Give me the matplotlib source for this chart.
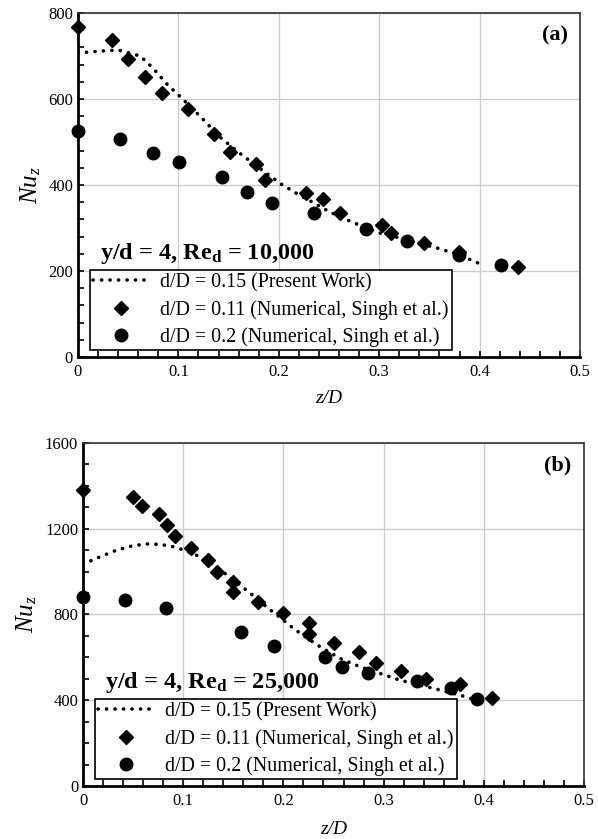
import matplotlib
matplotlib.use("Agg")
import matplotlib.pyplot as plt
from matplotlib.ticker import MultipleLocator

plt.rcParams['font.family'] = ['Liberation Serif', 'DejaVu Serif']
plt.rcParams['mathtext.fontset'] = 'custom'
plt.rcParams['mathtext.rm'] = 'Liberation Serif'
plt.rcParams['mathtext.it'] = 'Liberation Serif:italic'
plt.rcParams['mathtext.bf'] = 'Liberation Serif:bold'

# (a) Re_d = 10,000
a_line_x = [0.0, 0.02, 0.04, 0.062, 0.075, 0.088, 0.102, 0.122, 0.141, 0.161, 0.181,
            0.201, 0.218, 0.235, 0.251, 0.268, 0.285, 0.301, 0.32, 0.34, 0.36, 0.38, 0.401]
a_line_y = [707, 711, 714, 700, 671, 636, 605, 559, 512, 474, 439,
            404, 380, 358, 337, 319, 302, 288, 277, 264, 252, 237, 216]
a_dia_x = [0.0, 0.034, 0.050, 0.067, 0.084, 0.110, 0.135, 0.151, 0.177, 0.186,
           0.227, 0.244, 0.261, 0.303, 0.312, 0.345, 0.379, 0.438]
a_dia_y = [768, 737, 692, 652, 615, 576, 519, 477, 448, 412,
           381, 367, 336, 307, 289, 264, 245, 210]
a_cir_x = [0.0, 0.042, 0.075, 0.101, 0.143, 0.168, 0.193, 0.235, 0.287, 0.328, 0.379, 0.421]
a_cir_y = [526, 506, 474, 454, 418, 384, 358, 336, 297, 270, 237, 215]

# (b) Re_d = 25,000
b_line_x = [0.0, 0.017, 0.034, 0.050, 0.064, 0.077, 0.090, 0.103, 0.117, 0.133, 0.150,
            0.167, 0.183, 0.197, 0.210, 0.2235, 0.2365, 0.2565, 0.276, 0.296, 0.316,
            0.336, 0.356, 0.376, 0.403]
b_line_y = [1035, 1069, 1101, 1121, 1129, 1127, 1116, 1097, 1069, 1023, 961,
            899, 836, 785, 735, 690, 650, 595, 557, 526, 494, 471, 448, 424, 386]
b_dia_x = [0.0, 0.050, 0.059, 0.0755, 0.084, 0.092, 0.108, 0.125, 0.134, 0.150, 0.150,
           0.175, 0.200, 0.226, 0.226, 0.250, 0.275, 0.292, 0.317, 0.342, 0.376, 0.408]
b_dia_y = [1381, 1349, 1306, 1267, 1216, 1166, 1112, 1052, 998, 951, 905,
           858, 805, 762, 709, 668, 624, 575, 536, 499, 474, 412]
b_cir_x = [0.0, 0.0416, 0.083, 0.158, 0.191, 0.2415, 0.258, 0.284, 0.333, 0.367, 0.393]
b_cir_y = [880, 867, 830, 717, 653, 603, 554, 529, 490, 456, 406]

labels = ["d/D = 0.15 (Present Work)",
          "d/D = 0.11 (Numerical, Singh et al.)",
          "d/D = 0.2 (Numerical, Singh et al.)"]

fig = plt.figure(figsize=(5.98, 8.39), dpi=100)
ax1 = fig.add_axes([0.1304, 0.5745, 0.8396, 0.41])
ax2 = fig.add_axes([0.1388, 0.0632, 0.8378, 0.4088])


def draw(ax, lx, ly, dx, dy, cx, cy, ymax, ystep, yminor, tag, re_text, xpad):
    ax.plot(lx, ly, color='black', linestyle=(0, (0.05, 2.3)), lw=2.6,
            dash_capstyle='round', label=labels[0], zorder=3)
    ax.plot(dx, dy, 'D', color='black', ms=7.5, ls='none', label=labels[1],
            zorder=4, clip_on=False)
    ax.plot(cx, cy, 'o', color='black', ms=9, ls='none', label=labels[2],
            zorder=4, clip_on=False)
    ax.set_xlim(0, 0.5)
    ax.set_ylim(0, ymax)
    ax.xaxis.set_major_locator(MultipleLocator(0.1))
    ax.xaxis.set_minor_locator(MultipleLocator(0.02))
    ax.yaxis.set_major_locator(MultipleLocator(ystep))
    ax.yaxis.set_minor_locator(MultipleLocator(yminor))
    ax.xaxis.set_major_formatter(plt.FuncFormatter(lambda v, p: '0' if v == 0 else f'{v:g}'))
    ax.grid(True, which='major', color='#cccccc', lw=1)
    ax.set_axisbelow(True)
    ax.tick_params(which='both', direction='in', length=4, width=1.2,
                   top=False, right=False, labelsize=12)
    ax.tick_params(axis='x', pad=5)
    for s in ['left', 'bottom']:
        ax.spines[s].set_linewidth(2)
        ax.spines[s].set_color('black')
    for s in ['top', 'right']:
        ax.spines[s].set_linewidth(1.2)
        ax.spines[s].set_color('#333333')
    ax.set_xlabel('z/D', fontstyle='italic', fontsize=14, labelpad=xpad)
    ax.set_ylabel('$Nu_z$', fontsize=18, labelpad=4)
    ax.text(0.975, 0.965, tag, transform=ax.transAxes, ha='right', va='top',
            fontsize=16, fontweight='bold')
    ax.text(0.043, 0.285, re_text, transform=ax.transAxes, ha='left', va='baseline',
            fontsize=17.5, fontweight='bold')
    leg = ax.legend(loc='lower left', bbox_to_anchor=(0.024, 0.02, 0.74, 0.24),
                    fontsize=14.4, frameon=True, fancybox=False, edgecolor='black',
                    framealpha=1, handlelength=2.8, handletextpad=0.55,
                    borderaxespad=0, borderpad=0.15, labelspacing=0.38)
    leg.get_frame().set_linewidth(1.2)


draw(ax1, a_line_x, a_line_y, a_dia_x, a_dia_y, a_cir_x, a_cir_y,
     800, 200, 40, '(a)', r'y/d = 4, Re$_{\mathbf{d}}$ = 10,000', 7)
draw(ax2, b_line_x, b_line_y, b_dia_x, b_dia_y, b_cir_x, b_cir_y,
     1600, 400, 100, '(b)', r'y/d = 4, Re$_{\mathbf{d}}$ = 25,000', 9)

fig.savefig('out.png', dpi=100)
